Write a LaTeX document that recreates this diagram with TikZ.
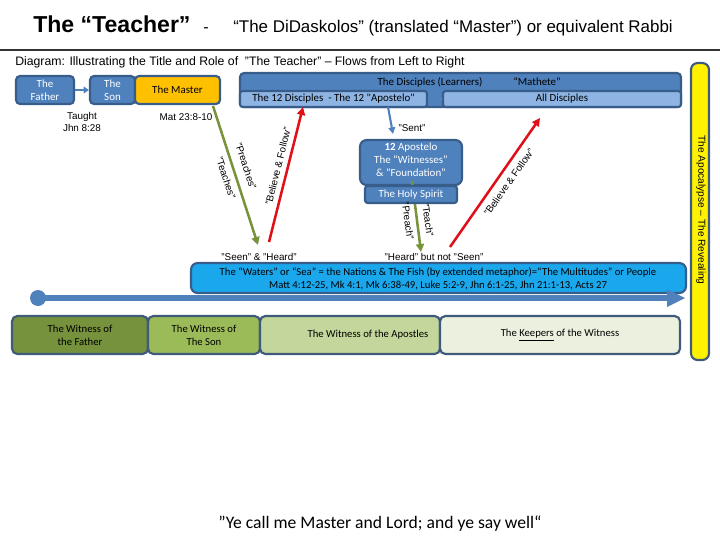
\documentclass[tikz,border=0pt]{standalone}
\usepackage{fontspec}
\setmainfont{Liberation Sans}
\newfontfamily\narfont{Liberation Sans}[FakeStretch=0.86]
\newfontfamily\calfont{Carlito}
\usetikzlibrary{arrows.meta}
\definecolor{bluef}{HTML}{4F81BD}
\definecolor{blueb}{HTML}{385D8A}
\definecolor{lblue}{HTML}{8EB4E3}
\definecolor{seab}{HTML}{1AA7EC}
\definecolor{gold}{HTML}{FFC000}
\definecolor{olive}{HTML}{77933C}
\definecolor{gdark}{HTML}{76923C}
\definecolor{gmid}{HTML}{9BBB59}
\definecolor{glight}{HTML}{C3D69B}
\definecolor{gpale}{HTML}{EBF1DE}
\definecolor{slate}{HTML}{3F5A7A}
\definecolor{redarr}{HTML}{E0101A}
\tikzset{
  box/.style={draw=blueb, line width=1.6pt, rounded corners=3pt, inner sep=0pt, align=center, font=\calfont\fontsize{8.2}{9.5}\selectfont},
  wbox/.style={draw=slate, line width=1.6pt, rounded corners=4pt, inner sep=0pt, align=center, font=\calfont\fontsize{8}{10}\selectfont},
  lab/.style={inner sep=0pt, align=center, font=\fontsize{7.4}{9}\selectfont},
  flow/.style={line width=1.9pt, -{Triangle[length=6pt,width=6pt]}},
}
\begin{document}
\begin{tikzpicture}[x=0.75pt,y=-0.75pt]
\useasboundingbox (0,0) rectangle (720,540);
% title
\node[anchor=base west, inner sep=0pt, font=\fontsize{17.3}{20}\selectfont\bfseries] (title) at (33,32) {The “Teacher”};
\node[anchor=base west, inner sep=0pt, font=\fontsize{12}{14}\selectfont] (dash) at (203,32) {-};
\node[anchor=base west, inner sep=0pt, font=\fontsize{12.7}{14}\selectfont] (sub) at (233,32) {“The DiDaskolos” (translated “Master”) or equivalent Rabbi};
\coordinate (hl) at (0,50);
\coordinate (hr) at (720,50);
\draw[line width=0.9pt, black!80] (hl) -- (hr);
\node[anchor=base west, inner sep=0pt, font=\fontsize{9.2}{11}\selectfont] (cap) at (15,65) {Diagram: Illustrating the Title and Role of \ "The Teacher" – Flows from Left to Right};

% top left boxes
\node[box, fill=bluef, text=white, minimum width=43.5pt, minimum height=21pt] (father) at (45,90) {The\\Father};
\node[box, fill=bluef, text=white, minimum width=33.75pt, minimum height=21pt] (son) at (112.5,90) {The\\Son};
\node[box, fill=gold, text=black, minimum width=63.75pt, minimum height=21pt] (master) at (177.5,90) {The Master};
\draw[bluef, line width=1.6pt, -{Triangle[length=4pt,width=5pt]}] (father.east) -- (son.west);
\node[lab] (taught) at (82,122) {Taught\\Jhn 8:28};
\node[lab] (mat) at (186,117) {Mat 23:8-10};

% disciples
\node[box, fill=bluef, minimum width=330.75pt, minimum height=25.5pt] (disc) at (460.5,90) {};
\node[lab, font=\calfont\fontsize{8.2}{9}\selectfont] (disct) at (430,82) {The Disciples (Learners)};
\node[lab, font=\calfont\fontsize{8.2}{9}\selectfont] (math) at (537,82) {“Mathete”};
\node[box, fill=lblue, minimum width=140.25pt, minimum height=12pt, rounded corners=2pt] (twelve) at (333.5,99) {The 12 Disciples \ - The 12 "Apostelo"};
\node[box, fill=lblue, minimum width=178.5pt, minimum height=12pt, rounded corners=2pt] (all) at (562,99) {All Disciples};
\fill[bluef] (428,96) -- (435,96) -- (435,92) -- (443,99) -- (435,106) -- (435,102) -- (428,102) -- cycle;

% yellow bar
\node[draw=slate, line width=1.6pt, fill=yellow, rounded corners=5pt, minimum width=13.5pt, minimum height=222.75pt, inner sep=0pt] (apoc) at (700,211.5) {};
\node[lab, rotate=-90, font=\fontsize{7.6}{9}\selectfont] (apoct) at (701,210) {The Apocalypse – The Revealing};

% apostelo
\node[box, fill=bluef, text=white, minimum width=76.5pt, minimum height=33.75pt, rounded corners=5pt] (apost) at (411,162.5) {};
\node[lab, text=white, font=\calfont\fontsize{8.2}{9.8}\selectfont] (apostt) at (411,160) {\textbf{12} Apostelo\\The “Witnesses”\\\& “Foundation”};
\coordinate (g2s) at (412,181);
\coordinate (g2e) at (421,252);
\draw[olive, flow] (g2s) -- (g2e);
\node[box, fill=bluef, text=white, minimum width=69pt, minimum height=12.75pt, rounded corners=2pt] (holy) at (411,194.5) {The Holy Spirit};

% arrows
\coordinate (g1s) at (213,106);
\coordinate (g1e) at (258,245);
\draw[olive, flow] (g1s) -- (g1e);
\coordinate (r1s) at (269,242);
\coordinate (r1e) at (303,107);
\draw[redarr, flow] (r1s) -- (r1e);
\coordinate (ss) at (388,107);
\coordinate (se) at (393,134);
\draw[bluef, line width=1.6pt, -{Triangle[length=5pt,width=5pt]}] (ss) -- (se);
\coordinate (r2s) at (450,247);
\coordinate (r2e) at (540,118);
\draw[redarr, flow] (r2s) -- (r2e);

\node[lab, rotate=-72] (teaches) at (226,178) {"Teaches"};
\node[lab, rotate=-72] (preaches) at (246,166) {"Preaches"};
\node[lab, rotate=76] (bf1) at (278,166) {"Believe \& Follow"};
\node[lab] (sent) at (412,128) {"Sent"};
\node[lab, rotate=-82] (preach) at (408,221) {"Preach"};
\node[lab, rotate=-82] (teach) at (428,220) {"Teach"};
\node[lab, rotate=55] (bf2) at (509,182) {"Believe \& Follow"};

\node[lab] (seen) at (259,257) {"Seen" \& "Heard"};
\node[lab] (heard) at (434,257) {"Heard" but not "Seen"};

% waters
\node[draw=blueb, line width=1.6pt, fill=seab, rounded corners=5pt, minimum width=371.25pt, minimum height=22.5pt, inner sep=0pt] (waters) at (438.5,278) {};
\node[lab, font=\calfont\fontsize{8}{9.8}\selectfont] (waterst) at (438,278.5) {The “Waters” or “Sea” = the Nations \& The Fish (by extended metaphor)=“The Multitudes” or People\\Matt 4:12-25, Mk 4:1, Mk 6:38-49, Luke 5:2-9, Jhn 6:1-25, Jhn 21:1-13, Acts 27};

% timeline
\coordinate (tl0) at (38,298);
\coordinate (tl1) at (668,298);
\coordinate (tip) at (685,298);
\draw[bluef, line width=5pt] (tl0) -- (tl1);
\fill[bluef] (667,289) -- (tip) -- (667,307) -- cycle;
\fill[bluef] (tl0) circle[radius=8];

% witness boxes
\node[wbox, fill=gdark, minimum width=102pt, minimum height=28.5pt] (wf) at (80,335) {The Witness of\\the Father};
\node[wbox, fill=gmid, minimum width=84pt, minimum height=28.5pt] (ws) at (204,335) {The Witness of\\The Son};
\node[wbox, fill=glight, minimum width=135pt, minimum height=28.5pt] (wa) at (350,335) {};
\node[wbox, fill=gpale, minimum width=180pt, minimum height=28.5pt] (wk) at (560,335) {The \underline{Keepers} of the Witness};
\node[lab, font=\calfont\fontsize{8}{10}\selectfont] (wat) at (368,335) {The Witness of the Apostles};

% quote
\node[inner sep=0pt, font=\calfont\fontsize{13.2}{15}\selectfont] (quote) at (380,524) {”Ye call me Master and Lord; and ye say well“};
\end{tikzpicture}
\end{document}
